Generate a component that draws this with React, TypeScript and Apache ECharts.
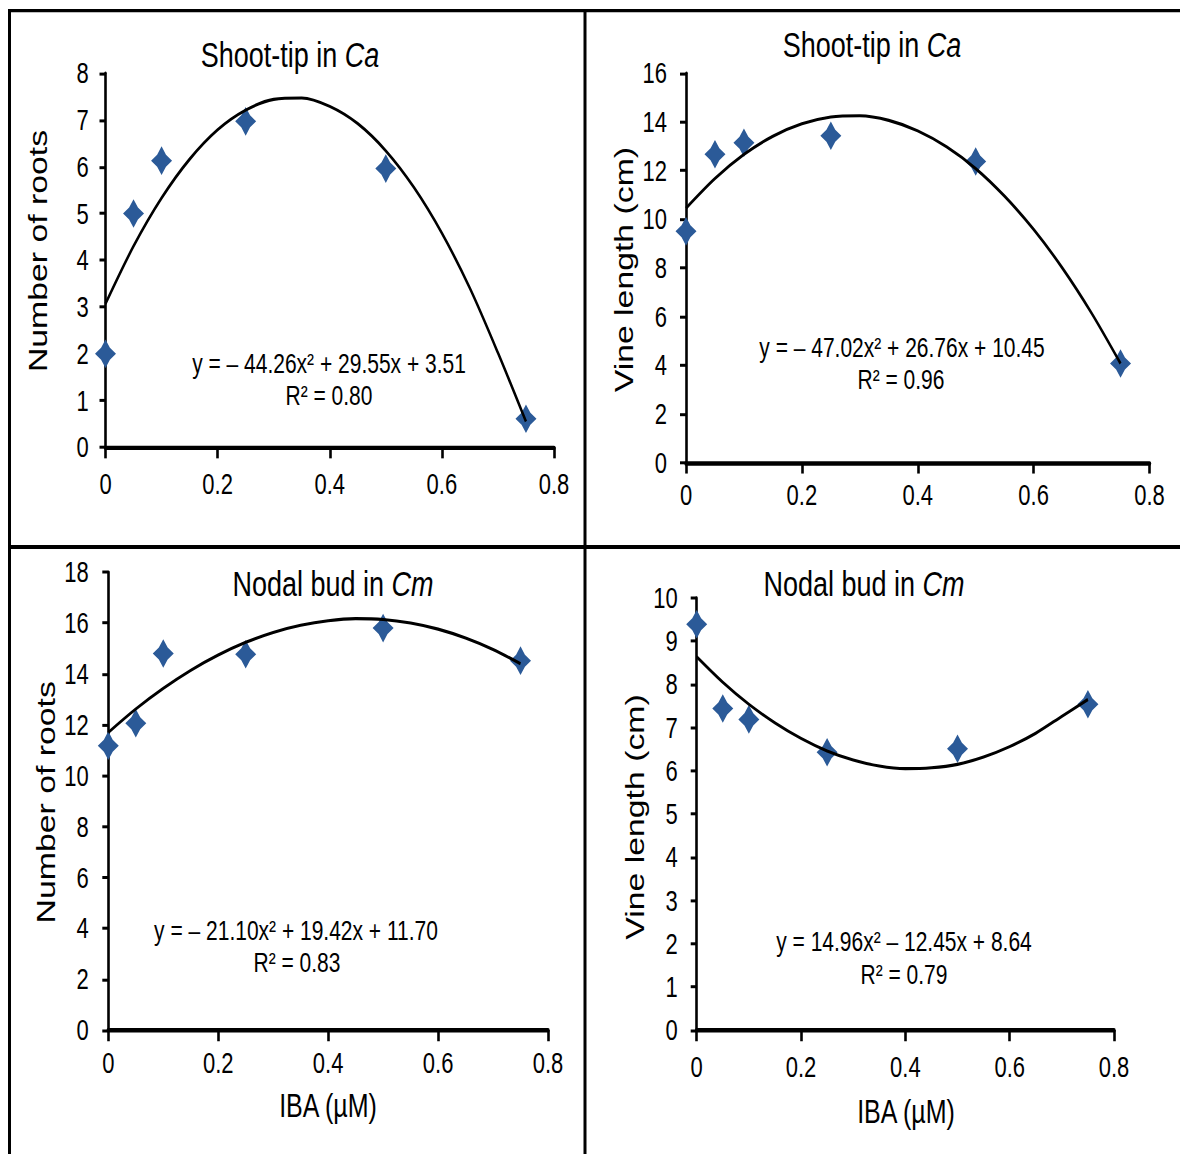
import React, { useEffect, useRef } from "react";
import * as echarts from "echarts";

// ---------- data ----------
const X_VALUES = [0, 0.05, 0.1, 0.25, 0.5, 0.75];
const ROOTS_SHOOT = [2.0, 5.0, 6.13, 6.97, 5.96, 0.61];
const VINE_SHOOT = [9.5, 12.67, 13.14, 13.43, 12.37, 4.07];
const ROOTS_NODAL = [11.18, 12.06, 14.8, 14.77, 15.8, 14.52];
const VINE_NODAL = [9.39, 7.44, 7.19, 6.43, 6.51, 7.54];

// trendline values
const TREND_X = [0, 0.05, 0.1, 0.15, 0.2, 0.25, 0.3, 0.35, 0.4, 0.45, 0.5, 0.55, 0.6, 0.65, 0.7, 0.75];
const TREND_ROOTS_SHOOT = [3.07, 4.3, 5.33, 6.16, 6.79, 7.21, 7.44, 7.47, 7.29, 6.92, 6.34, 5.56, 4.58, 3.4, 2.02, 0.55];
const TREND_VINE_SHOOT = [10.45, 11.67, 12.66, 13.41, 13.92, 14.2, 14.25, 14.06, 13.63, 12.97, 12.08, 10.94, 9.58, 7.98, 6.14, 4.07];
const TREND_ROOTS_NODAL = [11.7, 12.62, 13.43, 14.14, 14.74, 15.24, 15.63, 15.91, 16.09, 16.17, 16.14, 16.0, 15.76, 15.41, 14.96, 14.4];
const TREND_VINE_NODAL = [8.64, 8.05, 7.54, 7.11, 6.75, 6.46, 6.25, 6.11, 6.05, 6.07, 6.15, 6.32, 6.56, 6.87, 7.26, 7.65];

const TITLES = ["Shoot-tip in {i|Ca}", "Shoot-tip in {i|Ca}", "Nodal bud in {i|Cm}", "Nodal bud in {i|Cm}"];
const Y_TITLES = ["Number of roots", "Vine length (cm)", "Number of roots", "Vine length (cm)"];
const X_TITLE = "IBA (µM)";
const EQUATIONS = [
  "y = – 44.26x² + 29.55x + 3.51",
  "y = – 47.02x² + 26.76x + 10.45",
  "y = – 21.10x² + 19.42x + 11.70",
  "y = 14.96x² – 12.45x + 8.64",
];
const R2 = ["R² = 0.80", "R² = 0.96", "R² = 0.83", "R² = 0.79"];
const Y_MAX = [8, 16, 18, 10];
const Y_INTERVAL = [1, 2, 2, 1];

// ---------- layout ----------
const S = 1.3; // vertical stretch of the original picture
const H = 1154 / S;
const py = (v: number) => v / S;
const FONT = "'Liberation Sans', Arial, Helvetica, sans-serif";
const STAR = "path://M0,-10 L4.2,-4.2 L10,0 L4.2,4.2 L0,10 L-4.2,4.2 L-10,0 L-4.2,-4.2 Z";

// panel rectangles in picture pixels: left, right, top, bottom
const PANELS = [
  { l: 105.5, r: 554, t: 73.2, b: 447.3, ym: 16.7, xm: 17 },
  { l: 686, r: 1149.5, t: 73.2, b: 462.5, ym: 19, xm: 13.6 },
  { l: 108.3, r: 548, t: 572.1, b: 1030.2, ym: 19.5, xm: 14 },
  { l: 696.7, r: 1114, t: 597.9, b: 1030.2, ym: 19, xm: 17 },
];
const TITLE_POS = [[290, 55.4], [872, 45.5], [333, 583.9], [864, 584.5]];
const YT_POS = [[38, 251], [624, 269.6], [46, 802.3], [635, 817]];
const XT_POS = [[null, null], [null, null], [328, 1105.8], [906, 1111.6]];
const EQ_POS = [[329, 363.4], [902, 347.3], [296, 930], [904, 941.3]];
const R2_POS = [[329, 395.2], [901, 379.8], [297, 962.9], [904, 974.6]];

function buildOption() {
  const seriesY = [ROOTS_SHOOT, VINE_SHOOT, ROOTS_NODAL, VINE_NODAL];
  const trends = [TREND_ROOTS_SHOOT, TREND_VINE_SHOOT, TREND_ROOTS_NODAL, TREND_VINE_NODAL];

  const grid = PANELS.map((p) => ({
    left: p.l,
    top: py(p.t),
    width: p.r - p.l,
    height: py(p.b) - py(p.t),
    containLabel: false,
  }));

  const xAxis = PANELS.map((p, i) => ({
    type: "value",
    gridIndex: i,
    min: 0,
    max: 0.8,
    interval: 0.2,
    axisLine: { show: true, lineStyle: { color: "#000", width: 3.4 } },
    axisTick: { show: true, length: 8.5, lineStyle: { color: "#000", width: 2.6 } },
    axisLabel: { margin: p.xm, fontSize: 22, color: "#000", fontFamily: FONT },
    splitLine: { show: false },
  }));

  const yAxis = PANELS.map((p, i) => ({
    type: "value",
    gridIndex: i,
    min: 0,
    max: Y_MAX[i],
    interval: Y_INTERVAL[i],
    axisLine: { show: true, lineStyle: { color: "#000", width: 2.6 } },
    axisTick: { show: true, length: 6, lineStyle: { color: "#000", width: 2.3 } },
    axisLabel: { margin: p.ym, fontSize: 22, color: "#000", fontFamily: FONT },
    splitLine: { show: false },
  }));

  const series: any[] = [];
  for (let i = 0; i < 4; i++) {
    series.push({
      type: "scatter",
      xAxisIndex: i,
      yAxisIndex: i,
      data: X_VALUES.map((x, j) => [x, seriesY[i][j]]),
      symbol: STAR,
      symbolSize: [21, 22],
      itemStyle: { color: "#2B5A98", opacity: 1 },
      z: 2,
    });
    series.push({
      type: "line",
      xAxisIndex: i,
      yAxisIndex: i,
      data: TREND_X.map((x, j) => [x, trends[i][j]]),
      symbol: "none",
      showSymbol: false,
      smooth: 0.3,
      lineStyle: { color: "#000", width: 2.4 },
      z: 3,
    });
  }

  const txt = (x: number, y: number, text: string, size: number, extra: any = {}) => ({
    type: "text",
    x,
    y: py(y),
    z: 10,
    ...extra,
    style: {
      text,
      align: "center",
      verticalAlign: "middle",
      fontSize: size,
      fontFamily: FONT,
      fill: "#000",
      ...(extra.style || {}),
    },
  });

  const graphic: any[] = [
    // frame
    { type: "rect", shape: { x: 8, y: py(9), width: 1172, height: py(3.3) }, style: { fill: "#000" } },
    { type: "rect", shape: { x: 8, y: py(9), width: 3, height: py(1154 - 9) }, style: { fill: "#000" } },
    { type: "rect", shape: { x: 583.5, y: py(9), width: 3, height: py(1154 - 9) }, style: { fill: "#000" } },
    { type: "rect", shape: { x: 8, y: py(545), width: 1172, height: py(4) }, style: { fill: "#000" } },
  ];

  for (let i = 0; i < 4; i++) {
    graphic.push(
      txt(TITLE_POS[i][0], TITLE_POS[i][1], TITLES[i], 27, {
        style: { rich: { i: { fontStyle: "italic", fontSize: 27, fontFamily: FONT, fill: "#000" } } },
      })
    );
    graphic.push(txt(YT_POS[i][0], YT_POS[i][1], Y_TITLES[i], 26, { rotation: Math.PI / 2 }));
    if (XT_POS[i][0] !== null) {
      graphic.push(txt(XT_POS[i][0] as number, XT_POS[i][1] as number, X_TITLE, 25));
    }
    graphic.push(txt(EQ_POS[i][0], EQ_POS[i][1], EQUATIONS[i], 21));
    graphic.push(txt(R2_POS[i][0], R2_POS[i][1], R2[i], 21));
  }

  return {
    animation: false,
    backgroundColor: "#fff",
    grid,
    xAxis,
    yAxis,
    series,
    graphic,
  };
}

export default function App() {
  const ref = useRef<HTMLDivElement>(null);
  useEffect(() => {
    if (!ref.current) return;
    const chart = echarts.init(ref.current, null, { renderer: "svg" });
    chart.setOption(buildOption() as any);
    return () => chart.dispose();
  }, []);
  return (
    <div
      ref={ref}
      style={{
        position: "absolute",
        left: 0,
        top: 0,
        width: 1180,
        height: H,
        transform: `scaleY(${S})`,
        transformOrigin: "0 0",
        background: "#fff",
      }}
    />
  );
}
